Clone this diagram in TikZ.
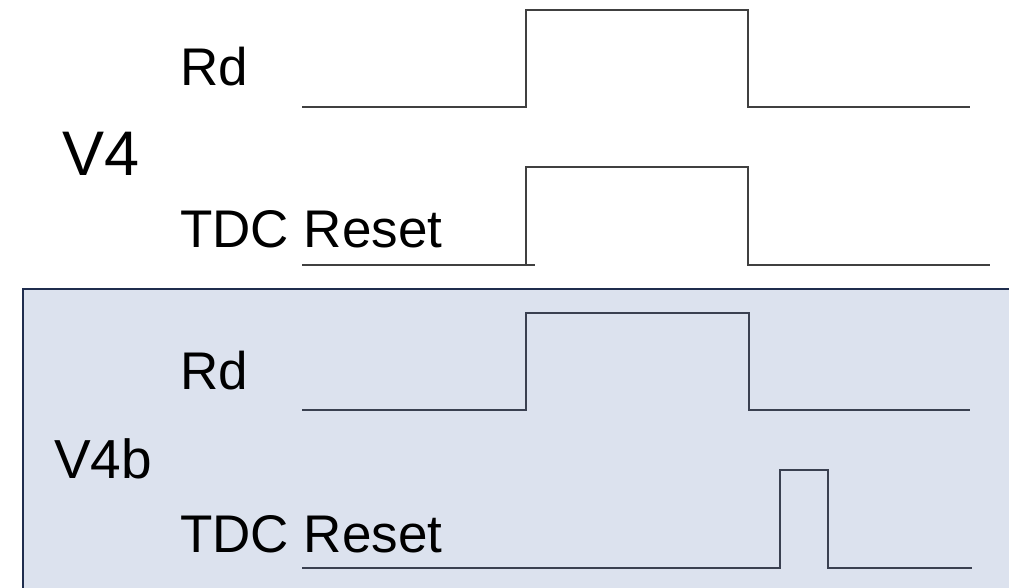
\documentclass[tikz,border=0pt]{standalone}
\usepackage{fontspec}
\setmainfont{Liberation Sans}
\begin{document}
\begin{tikzpicture}[x=1pt,y=-1pt,
  lbl/.style={anchor=base west,inner sep=0pt,font=\fontsize{53}{60}\selectfont},
  wave/.style={line width=1.6pt,draw=black!75,line join=miter},
  wavein/.style={line width=1.6pt,draw={rgb,255:red,58;green,64;blue,80},line join=miter}]
\useasboundingbox (0,0) rectangle (1009,587);
\clip (0,0) rectangle (1009,587);
% shaded panel for the second variant
\fill[fill={rgb,255:red,220;green,226;blue,238}] (23,289) rectangle (1020,600);
\draw[line width=2.5pt,draw={rgb,255:red,31;green,45;blue,78}] (23,600) -- (23,289) -- (1020,289);

% labels
\node[lbl] (rd1) at (180,85) {Rd};
\node[lbl,font=\fontsize{63}{70}\selectfont] (v4) at (62,175) {V4};
\node[lbl] (tdc1) at (180,247) {TDC Reset};
\node[lbl] (rd2) at (180,389) {Rd};
\node[lbl,font=\fontsize{55}{64}\selectfont] (v4b) at (54,478) {V4b};
\node[lbl] (tdc2) at (180,552) {TDC Reset};

% V4 waveforms
\draw[wave] (302,107) -- (526,107) -- (526,10) -- (748,10) -- (748,107) -- (970,107);
\draw[wave] (302,265) -- (535,265);
\draw[wave] (526,265) -- (526,167) -- (748,167) -- (748,265) -- (990,265);

% V4b waveforms
\draw[wavein] (302,410) -- (526,410) -- (526,313) -- (749,313) -- (749,410) -- (970,410);
\draw[wavein] (302,568) -- (780,568) -- (780,470) -- (828,470) -- (828,568) -- (972,568);
\end{tikzpicture}
\end{document}
